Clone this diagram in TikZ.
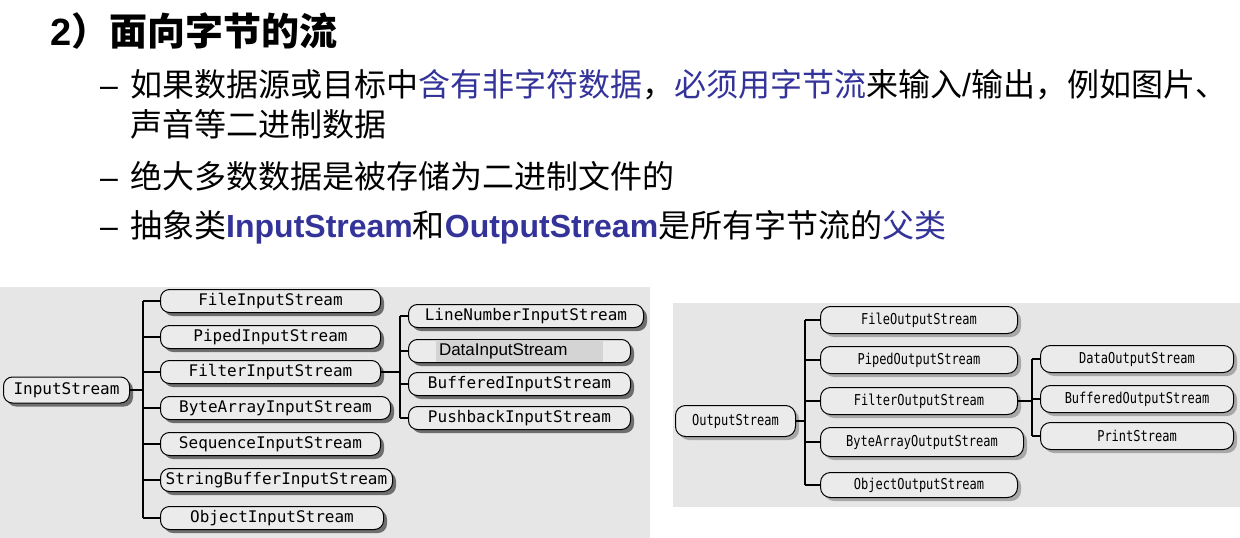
\documentclass[tikz,border=0pt]{standalone}
\usepackage{fontspec}
\setmainfont{Liberation Sans}
\newfontfamily\cjk{Noto Sans CJK SC}
\newfontfamily\latin{Liberation Sans}
\newfontfamily\monoL{DejaVu Sans Mono}
\newfontfamily\monoR[FakeStretch=0.8]{DejaVu Sans Mono}
\usetikzlibrary{shadows}
\definecolor{myblue}{RGB}{51,51,153}
\definecolor{panelbg}{RGB}{230,230,230}
\definecolor{pillfill}{RGB}{235,235,235}
\definecolor{hlgray}{RGB}{212,212,212}
\definecolor{shadowL}{RGB}{110,110,110}
\definecolor{shadowR}{RGB}{168,168,168}
\begin{document}
\begin{tikzpicture}[x=1pt,y=-1pt,
  txt/.style={anchor=base west, inner sep=0pt, font=\fontsize{32}{36}\selectfont},
  pillL/.style={draw, line width=1pt, rounded corners=9pt, fill=pillfill, anchor=west,
    minimum height=23pt, inner sep=0pt, font=\monoL\fontsize{16}{18}\selectfont,
    drop shadow={shadow xshift=3.5pt, shadow yshift=-3.5pt, fill=shadowL, opacity=1}},
  pillR/.style={draw, line width=1pt, rounded corners=10pt, fill=pillfill, anchor=west,
    minimum height=27pt, inner sep=0pt, font=\monoR\fontsize{15}{17}\selectfont,
    drop shadow={shadow xshift=3.5pt, shadow yshift=-3.5pt, fill=shadowR, opacity=1}},
  trunk/.style={line width=1.8pt},
  sub/.style={line width=1.2pt}]
\useasboundingbox (0,0) rectangle (1240,538);
% ---------- text ----------
\node[txt, font=\fontsize{38}{42}\selectfont\bfseries] (title) at (50,45) {2\cjk ）面向字节的流};
\node[txt] (d1) at (100,96) {–};
\node[txt] (l1) at (130,96) {\cjk 如果数据源或目标中\textcolor{myblue}{含有非字符数据}，\textcolor{myblue}{必须用字节流}来输入{\latin /}输出，例如图片、};
\node[txt] (l2) at (130,136) {\cjk 声音等二进制数据};
\node[txt] (d3) at (100,188) {–};
\node[txt] (l3) at (130,188) {\cjk 绝大多数数据是被存储为二进制文件的};
\node[txt] (d4) at (100,237) {–};
\node[txt] (l4) at (130,237) {\cjk 抽象类{\latin\bfseries\color{myblue}InputStream}和{\latin\bfseries\color{myblue}OutputStream}是所有字节流的\textcolor{myblue}{父类}};
% ---------- panels ----------
\fill[panelbg] (0,287) rectangle (650,538);
\fill[panelbg] (673,303) rectangle (1240,507);
% ---------- left tree ----------
\node[pillL, minimum width=126pt, minimum height=26pt] (is) at (3,390) {InputStream};
\node[pillL, minimum width=220pt] (fis) at (160,301) {FileInputStream};
\node[pillL, minimum width=220pt] (pis) at (160,337) {PipedInputStream};
\node[pillL, minimum width=220pt] (fiis) at (160,372) {FilterInputStream};
\node[pillL, minimum width=230pt] (bais) at (160,408) {ByteArrayInputStream};
\node[pillL, minimum width=220pt] (sis) at (160,444) {SequenceInputStream};
\node[pillL, minimum width=232pt] (sbis) at (160,480) {StringBufferInputStream};
\node[pillL, minimum width=223pt] (ois) at (160,518) {ObjectInputStream};
\node[pillL, minimum width=235pt] (lnis) at (408,316) {LineNumberInputStream};
\node[pillL, minimum width=222pt] (dis) at (408,351) {\setlength{\fboxsep}{0pt}\colorbox{hlgray}{\makebox[167pt][l]{\rule[-6.5pt]{0pt}{22pt}\hspace{3pt}\latin\fontsize{17}{19}\selectfont DataInputStream}}};
\node[pillL, minimum width=222pt] (bis) at (408,384) {BufferedInputStream};
\node[pillL, minimum width=222pt] (pbis) at (408,418) {PushbackInputStream};
\coordinate (tL) at (143,390);
\coordinate (sL) at (400,372);
\draw[trunk] (is.east) -- (tL);
\draw[trunk] (fis.west -| tL) -- (ois.west -| tL);
\foreach \n in {fis,pis,fiis,bais,sis,sbis,ois}
  \draw[trunk] (\n.west -| tL) -- (\n.west);
\draw[sub] (fiis.east) -- (sL);
\draw[trunk] (lnis.west -| sL) -- (pbis.west -| sL);
\foreach \n in {lnis,dis,bis,pbis}
  \draw[sub] (\n.west -| sL) -- (\n.west);
% ---------- right tree ----------
\node[pillR, minimum width=120pt, minimum height=31pt] (os) at (675,421) {OutputStream};
\node[pillR, minimum width=197pt] (fos) at (820,320) {FileOutputStream};
\node[pillR, minimum width=197pt] (pos) at (820,360) {PipedOutputStream};
\node[pillR, minimum width=197pt] (fios) at (820,401) {FilterOutputStream};
\node[pillR, minimum width=203pt, minimum height=29pt] (baos) at (820,442) {ByteArrayOutputStream};
\node[pillR, minimum width=197pt, minimum height=25pt] (oos) at (820,485) {ObjectOutputStream};
\node[pillR, minimum width=193pt] (dos) at (1040,359) {DataOutputStream};
\node[pillR, minimum width=193pt] (bos) at (1040,399) {BufferedOutputStream};
\node[pillR, minimum width=193pt] (ps) at (1040,436) {PrintStream};
\coordinate (tR) at (805,421);
\coordinate (sR) at (1032,401);
\draw[trunk] (os.east) -- (tR);
\draw[trunk] (fos.west -| tR) -- (oos.west -| tR);
\foreach \n in {fos,pos,fios,baos,oos}
  \draw[trunk] (\n.west -| tR) -- (\n.west);
\draw[sub] (fios.east) -- (sR);
\draw[sub] (dos.west -| sR) -- (ps.west -| sR);
\foreach \n in {dos,bos,ps}
  \draw[sub] (\n.west -| sR) -- (\n.west);
\end{tikzpicture}
\end{document}
